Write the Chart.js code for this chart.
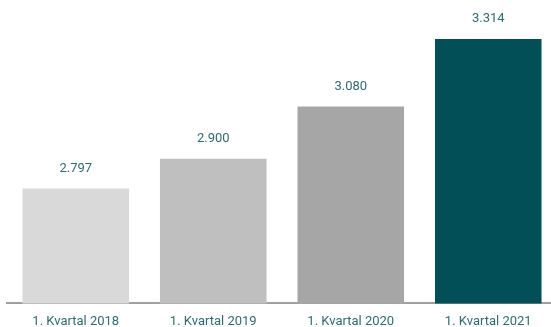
<!DOCTYPE html>
<html>
<head>
<meta charset="utf-8">
<script src="https://cdn.jsdelivr.net/npm/chart.js@4/dist/chart.umd.min.js"></script>
<style>
html,body{margin:0;padding:0;background:#fff;overflow:hidden;}
#wrap{width:557px;height:327px;overflow:hidden;}
</style>
</head>
<body>
<div id="wrap"><canvas id="c" width="557" height="341"></canvas></div>
<script>
const categories = ["1. Kvartal 2018", "1. Kvartal 2019", "1. Kvartal 2020", "1. Kvartal 2021"];
const values = [2797, 2900, 3080, 3314];
const valueLabels = ["2.797", "2.900", "3.080", "3.314"];
const barColors = ["#d9d9d9", "#bfbfbf", "#a6a6a6", "#034f57"];

const labelPlugin = {
  id: 'valueLabels',
  afterDatasetsDraw(chart) {
    const ctx = chart.ctx;
    const meta = chart.getDatasetMeta(0);
    ctx.save();
    ctx.font = '13px Roboto';
    ctx.fillStyle = '#2f6b72';
    ctx.textAlign = 'center';
    ctx.textBaseline = 'middle';
    meta.data.forEach((bar, i) => {
      ctx.fillText(valueLabels[i], bar.x, bar.y - 20);
    });
    ctx.restore();
  }
};

new Chart(document.getElementById('c'), {
  type: 'bar',
  data: {
    labels: categories,
    datasets: [{
      data: values,
      backgroundColor: barColors,
      borderWidth: 0,
      barPercentage: 0.775,
      categoryPercentage: 1.0
    }]
  },
  options: {
    responsive: false,
    animation: false,
    layout: { padding: { left: 7, right: 0, top: 14, bottom: 0 } },
    plugins: { legend: { display: false }, tooltip: { enabled: false } },
    scales: {
      y: { display: false, min: 2400, max: 3400 },
      x: {
        grid: { display: false, drawTicks: false },
        border: { display: true, color: '#a0a0a0', width: 2 },
        ticks: { color: '#2f6b72', font: { family: 'Roboto', size: 13 }, padding: 11 }
      }
    }
  },
  plugins: [labelPlugin]
});
</script>
</body>
</html>
